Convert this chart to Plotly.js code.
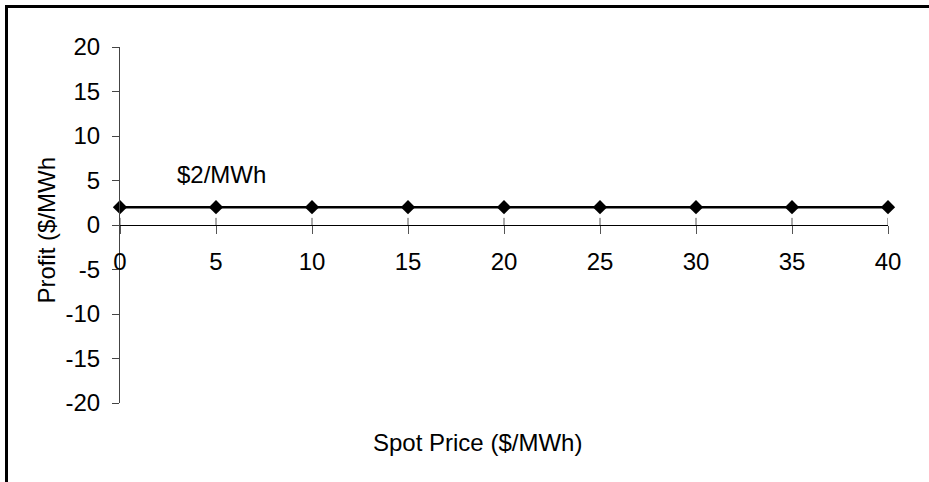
<!DOCTYPE html>
<html>
<head>
<meta charset="utf-8">
<script src="https://cdn.plot.ly/plotly-3.0.1.min.js"></script>
<style>
  html, body { margin: 0; padding: 0; background: #fff; width: 929px; height: 482px; overflow: hidden; }
  #frame { position: absolute; left: 5px; top: 5px; width: 921px; height: 474px;
           border-top: 3px solid #000; border-left: 3px solid #000; overflow: hidden; }
  #chart { width: 921px; height: 474px; }
  #edge { position: fixed; left: 921px; top: 8px; width: 8px; height: 474px; background: #fff; z-index: 100000; }
</style>
</head>
<body>
<div id="frame"><div id="chart"></div></div>
<div id="edge"></div>
<script>
// Data
const spotPrice = [0, 5, 10, 15, 20, 25, 30, 35, 40];
const profit    = [2, 2, 2, 2, 2, 2, 2, 2, 2];
const xTicks = [0, 5, 10, 15, 20, 25, 30, 35, 40];
const yTicks = [-20, -15, -10, -5, 0, 5, 10, 15, 20];
const xTitle = 'Spot Price ($/MWh)';
const yTitle = 'Profit ($/MWh';
const labelText = '$2/MWh';

const FONT = 'Liberation Sans, Arial, sans-serif';

const trace = {
  x: spotPrice, y: profit, type: 'scatter', mode: 'lines+markers',
  line: { color: '#000', width: 2.5 },
  marker: { symbol: 'diamond', size: 11, color: '#000' },
  cliponaxis: false, showlegend: false, hoverinfo: 'skip'
};

// upper half of the crossing tick marks on the x axis, one per tick value
const crossTicks = xTicks.map(v => ({
  type: 'line', xref: 'x', yref: 'y', x0: v, x1: v, y0: 0, y1: 0.8,
  line: { color: '#555', width: 1 }
}));

const layout = {
  width: 921, height: 474,
  margin: { l: 112, r: 41, t: 39, b: 79 },
  paper_bgcolor: '#fff', plot_bgcolor: '#fff',
  font: { family: FONT, size: 24, color: '#000' },
  xaxis: {
    range: [0, 40], tickvals: xTicks, ticktext: xTicks.map(String),
    anchor: 'free', position: 0.5,
    showline: true, linecolor: '#000', linewidth: 1,
    ticks: 'outside', ticklen: 8, tickcolor: '#555', tickwidth: 1,
    ticklabelstandoff: 7,
    showgrid: false, zeroline: false,
    tickfont: { family: FONT, size: 24, color: '#000' }
  },
  yaxis: {
    range: [-20, 20], tickvals: yTicks, ticktext: yTicks.map(String),
    showline: true, linecolor: '#444', linewidth: 1,
    ticks: 'outside', ticklen: 7, tickcolor: '#444', tickwidth: 1,
    ticklabelstandoff: 7,
    showgrid: false, zeroline: false,
    tickfont: { family: FONT, size: 24, color: '#000' }
  },
  shapes: crossTicks,
  annotations: [
    { x: 5.3, y: 5.7, xref: 'x', yref: 'y', text: labelText, showarrow: false,
      xanchor: 'center', yanchor: 'middle', font: { family: FONT, size: 24, color: '#000' } },
    { x: 0.465, y: -0.11, xref: 'paper', yref: 'paper', text: xTitle, showarrow: false,
      xanchor: 'center', yanchor: 'middle', font: { family: FONT, size: 24, color: '#000' } },
    { x: -0.096, y: 0.485, xref: 'paper', yref: 'paper', text: yTitle, showarrow: false,
      textangle: -90, xanchor: 'center', yanchor: 'middle', font: { family: FONT, size: 24, color: '#000' } }
  ]
};

Plotly.newPlot('chart', [trace], layout, { displayModeBar: false, staticPlot: true });
</script>
</body>
</html>
